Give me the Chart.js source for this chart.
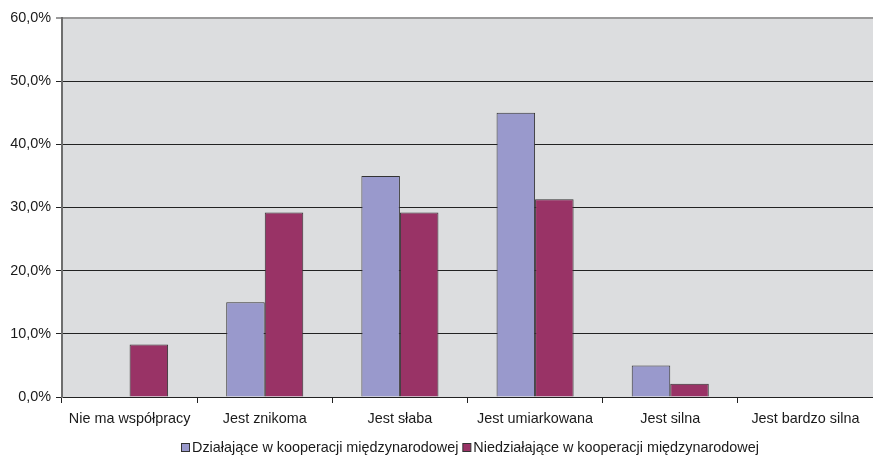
<!DOCTYPE html>
<html>
<head>
<meta charset="utf-8">
<script src="https://cdn.jsdelivr.net/npm/chart.js@4/dist/chart.umd.min.js"></script>
<style>
  html, body { margin: 0; padding: 0; background: #ffffff; }
  #wrap { width: 873px; height: 455px; }
</style>
</head>
<body>
<div id="wrap"><canvas id="c" width="873" height="455"></canvas></div>
<script>
const categories = ['Nie ma współpracy', 'Jest znikoma', 'Jest słaba', 'Jest umiarkowana', 'Jest silna', 'Jest bardzo silna'];
const seriesNames = ['Działające w kooperacji międzynarodowej', 'Niedziałające w kooperacji międzynarodowej'];
const dzialajace = [0, 15.0, 35.0, 45.0, 5.0, 0];
const niedzialajace = [8.3, 29.2, 29.2, 31.3, 2.1, 0];
const yTicks = [0, 10, 20, 30, 40, 50, 60];

const colors = ['#9999CC', '#993366'];
const FONT = 'Liberation Sans, Arial, sans-serif';
const FONT_SIZE = 14.4;

// grey plot background
const plotBg = {
  id: 'plotBg',
  beforeDraw(chart) {
    const { ctx, chartArea: a } = chart;
    ctx.save();
    ctx.fillStyle = '#DCDDDF';
    ctx.fillRect(a.left, a.top, a.right - a.left, a.bottom - a.top);
    ctx.restore();
  }
};

// legend row centred under the plot
const bottomLegend = {
  id: 'bottomLegend',
  afterDraw(chart) {
    const { ctx, chartArea: a } = chart;
    ctx.save();
    ctx.font = FONT_SIZE + 'px ' + FONT;
    ctx.textBaseline = 'middle';
    const box = 8, gapText = 3, gapItem = 4;
    const widths = seriesNames.map(n => box + gapText + ctx.measureText(n).width);
    const total = widths.reduce((s, w) => s + w, 0) + gapItem * (widths.length - 1);
    let x = Math.round((a.left + a.right) / 2 - total / 2) + 2;
    const y = 447;
    seriesNames.forEach((n, i) => {
      ctx.fillStyle = colors[i];
      ctx.fillRect(x + 0.5, y - box / 2 + 0.5, box, box);
      ctx.strokeStyle = '#333333';
      ctx.lineWidth = 1;
      ctx.strokeRect(x + 0.5, y - box / 2 + 0.5, box, box);
      ctx.fillStyle = '#1a1a1a';
      ctx.fillText(n, x + box + gapText, y + 1);
      x += widths[i] + gapItem;
    });
    ctx.restore();
  }
};

new Chart(document.getElementById('c'), {
  type: 'bar',
  data: {
    labels: categories,
    datasets: [
      { label: seriesNames[0], data: dzialajace, backgroundColor: colors[0], borderColor: '#333333', borderWidth: 1 },
      { label: seriesNames[1], data: niedzialajace, backgroundColor: colors[1], borderColor: '#333333', borderWidth: 1 }
    ]
  },
  options: {
    responsive: false,
    animation: false,
    devicePixelRatio: 1,
    layout: { padding: { top: 18, right: 0, bottom: 0, left: 0 } },
    datasets: { bar: { categoryPercentage: 0.57, barPercentage: 1.0 } },
    plugins: { legend: { display: false }, tooltip: { enabled: false } },
    scales: {
      x: {
        offset: true,
        grid: { offset: true, drawOnChartArea: false, tickLength: 6, color: '#222222', lineWidth: 1 },
        border: { color: '#222222', width: 1 },
        ticks: { font: { family: FONT, size: FONT_SIZE }, color: '#1a1a1a', padding: 7, maxRotation: 0, autoSkip: false },
        afterFit(scale) { scale.height = 58; }
      },
      y: {
        min: 0, max: 60,
        afterBuildTicks(scale) { scale.ticks = yTicks.map(v => ({ value: v })); },
        grid: {
          tickLength: 6,
          color: ctx => (ctx.tick && ctx.tick.value === 60) ? '#9a9a9a' : '#222222',
          lineWidth: ctx => (ctx.tick && ctx.tick.value === 60) ? 2 : 1
        },
        border: { color: '#6e6e6e', width: 2 },
        ticks: {
          font: { family: FONT, size: FONT_SIZE }, color: '#1a1a1a', padding: 5,
          callback: v => v.toFixed(1).replace('.', ',') + '%'
        },
        afterFit(scale) { scale.width = 62; }
      }
    }
  },
  plugins: [plotBg, bottomLegend]
});
</script>
</body>
</html>
